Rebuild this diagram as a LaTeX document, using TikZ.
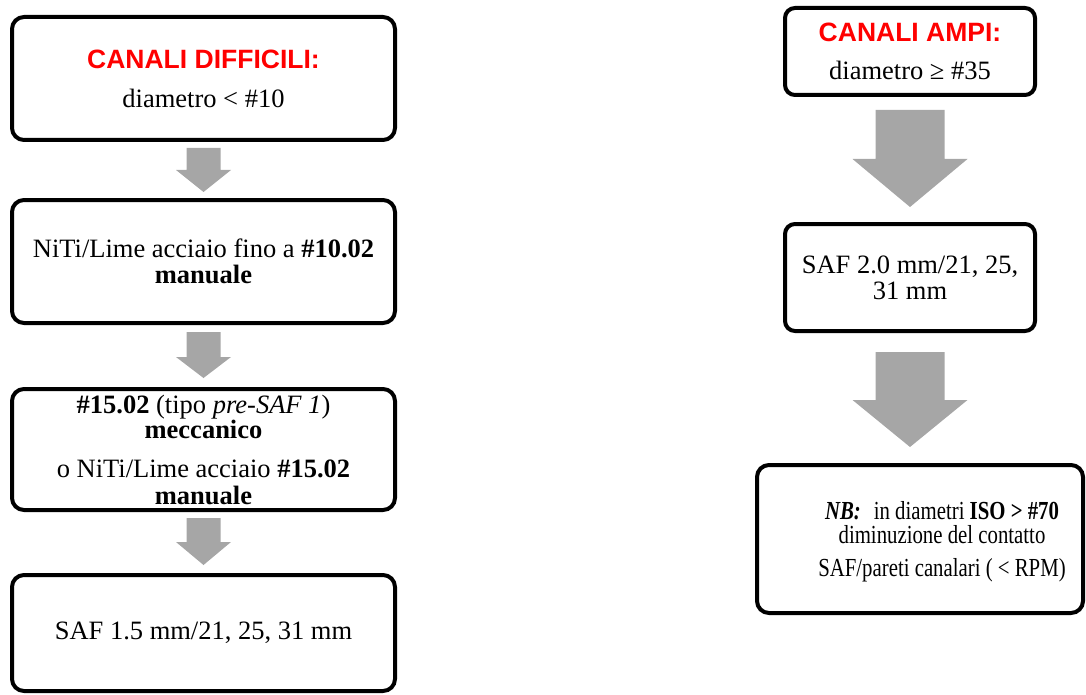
\documentclass[tikz,border=0pt]{standalone}
\usepackage{fontspec}
\setmainfont{Liberation Serif}
\newfontfamily\headfont{Liberation Sans}
\newfontfamily\nbfont{Liberation Serif}[FakeStretch=0.8]
\usepackage{tikz}
\usetikzlibrary{positioning, calc}
\definecolor{arrowgray}{RGB}{166,166,166}
\lineskiplimit=-100pt
\tikzset{
	x=1pt, y=1pt,
	box/.style={draw, line width=4pt, rounded corners=12pt, align=center, inner sep=4pt,
		font=\fontsize{26.5}{26}\selectfont},
	leftbox/.style={box, minimum width=383pt},
	rightbox/.style={box, minimum width=250pt, rounded corners=10pt},
	blockarrow/.style={fill=arrowgray, draw=none},
}
\newcommand{\headline}[1]{{\headfont\bfseries\textcolor{red}{#1}}}

\begin{document}
\begin{tikzpicture}
			\useasboundingbox (0,0) rectangle (1086,-695);
			
			\node[leftbox, minimum height=123pt] (DIFF) at (203.5,-78.5) {\headline{CANALI DIFFICILI:}\\[13pt]diametro < \#10};
			\node[leftbox, minimum height=123pt, below=56pt of DIFF] (MAN10) {NiTi/Lime acciaio fino a \textbf{\#10.02}\\\textbf{manuale}};
			\node[leftbox, minimum height=121pt, below=62pt of MAN10] (PRE15) {\textbf{\#15.02} (tipo \textit{pre-SAF 1})\\[-1pt]\textbf{meccanico}\\[13pt]o NiTi/Lime acciaio \textbf{\#15.02}\\[1pt]\textbf{manuale}};
			\node[leftbox, minimum height=116pt, below=61pt of PRE15] (SAF15) {SAF 1.5 mm/21, 25, 31 mm};
			
			\node[rightbox, minimum height=87pt] (AMPI) at (910,-51.5) {\headline{CANALI AMPI:}\\[12pt]diametro ≥ \#35};
			\node[rightbox, minimum height=107pt, below=125pt of AMPI] (SAF20) {SAF 2.0 mm/21, 25,\\31 mm};
			\node[box, minimum width=326pt, minimum height=148pt, below=130pt of SAF20, xshift=10pt] (NB) {};
			\node[align=center, font=\fontsize{26}{26}\nbfont] (NBtext) at ([xshift=22pt,yshift=-3pt]NB.center) {\textbf{\textit{NB:}}\hspace{13pt}in diametri \textbf{ISO > \#70}\\[-2pt]diminuzione del contatto\\[7pt]SAF/pareti canalari ( < RPM)};
			\coordinate (NBtop) at (NB.north -| SAF20.south);
			
			\fill[blockarrow] ([xshift=-17pt,yshift=-6pt]DIFF.south) -- ([xshift=17pt,yshift=-6pt]DIFF.south) -- ([xshift=17pt,yshift=28pt]MAN10.north) -- ([xshift=27.5pt,yshift=28pt]MAN10.north) -- ([yshift=6pt]MAN10.north) -- ([xshift=-27.5pt,yshift=28pt]MAN10.north) -- ([xshift=-17pt,yshift=28pt]MAN10.north) -- cycle;
			\fill[blockarrow] ([xshift=-17pt,yshift=-7pt]MAN10.south) -- ([xshift=17pt,yshift=-7pt]MAN10.south) -- ([xshift=17pt,yshift=30pt]PRE15.north) -- ([xshift=27.5pt,yshift=30pt]PRE15.north) -- ([yshift=9pt]PRE15.north) -- ([xshift=-27.5pt,yshift=30pt]PRE15.north) -- ([xshift=-17pt,yshift=30pt]PRE15.north) -- cycle;
			\fill[blockarrow] ([xshift=-17pt,yshift=-6pt]PRE15.south) -- ([xshift=17pt,yshift=-6pt]PRE15.south) -- ([xshift=17pt,yshift=31pt]SAF15.north) -- ([xshift=27.5pt,yshift=31pt]SAF15.north) -- ([yshift=8pt]SAF15.north) -- ([xshift=-27.5pt,yshift=31pt]SAF15.north) -- ([xshift=-17pt,yshift=31pt]SAF15.north) -- cycle;
			
			\fill[blockarrow] ([xshift=-34.5pt,yshift=-13pt]AMPI.south) -- ([xshift=34.5pt,yshift=-13pt]AMPI.south) -- ([xshift=34.5pt,yshift=63pt]SAF20.north) -- ([xshift=57.5pt,yshift=63pt]SAF20.north) -- ([yshift=15pt]SAF20.north) -- ([xshift=-57.5pt,yshift=63pt]SAF20.north) -- ([xshift=-34.5pt,yshift=63pt]SAF20.north) -- cycle;
			\fill[blockarrow] ([xshift=-34.5pt,yshift=-19pt]SAF20.south) -- ([xshift=34.5pt,yshift=-19pt]SAF20.south) -- ([xshift=34.5pt,yshift=63pt]NBtop) -- ([xshift=57.5pt,yshift=63pt]NBtop) -- ([yshift=16pt]NBtop) -- ([xshift=-57.5pt,yshift=63pt]NBtop) -- ([xshift=-34.5pt,yshift=63pt]NBtop) -- cycle;
			
		\end{tikzpicture}
\end{document}
